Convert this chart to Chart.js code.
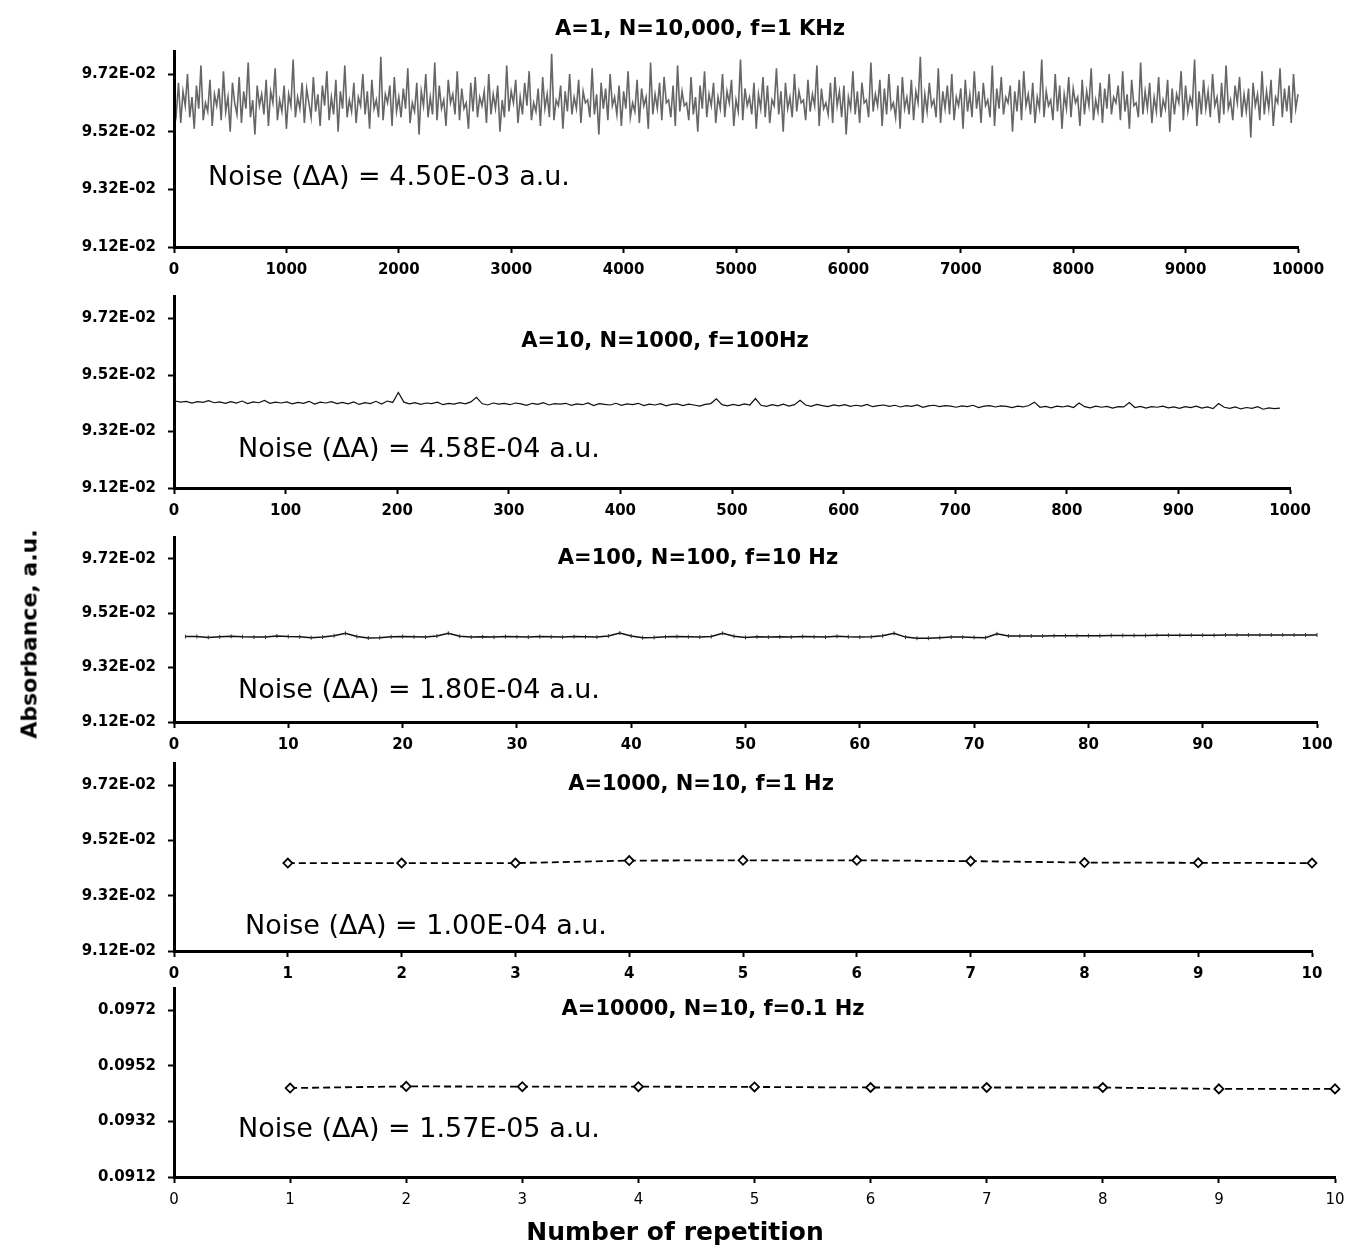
<!DOCTYPE html>
<html>
<head>
<meta charset="utf-8">
<script src="https://cdn.jsdelivr.net/npm/chart.js@4.4.0/dist/chart.umd.min.js"></script>
<style>
  body { margin: 0; background: #fff; width: 1345px; height: 1249px; position: relative; overflow: hidden; font-family: 'DejaVu Sans', sans-serif; color: #000; }
  canvas { position: absolute; left: 0; }
  .title { position: absolute; white-space: nowrap; transform: translate(-50%, -50%); font-weight: bold; font-size: 21px; }
  .noise { position: absolute; white-space: nowrap; transform: translateY(-50%); font-size: 27px; }
  .axis-title { position: absolute; white-space: nowrap; transform: translate(-50%, -50%); font-weight: bold; }
</style>
</head>
<body>
<script>
// ---- data ----
const yTicksAbs = [0.0912, 0.0932, 0.0952, 0.0972];
const yLabelsSci = ['9.12E-02', '9.32E-02', '9.52E-02', '9.72E-02'];
const yLabelsDec = ['0.0912', '0.0932', '0.0952', '0.0972'];

const xTicks1 = [0, 1000, 2000, 3000, 4000, 5000, 6000, 7000, 8000, 9000, 10000];
const xTicks2 = [0, 100, 200, 300, 400, 500, 600, 700, 800, 900, 1000];
const xTicks3 = [0, 10, 20, 30, 40, 50, 60, 70, 80, 90, 100];
const xTicks4 = [0, 1, 2, 3, 4, 5, 6, 7, 8, 9, 10];

// A=1, N=10,000 (read every 20 repetitions)
const absorb1 = [
  0.0963,0.0958,0.0969,0.0955,0.0966,0.0961,0.0972,0.0957,0.0964,0.0953,0.0968,0.0960,0.0975,0.0956,0.0962,0.0959,0.0970,0.0954,0.0965,0.0961,
  0.0967,0.0956,0.0973,0.0959,0.0964,0.0952,0.0969,0.0962,0.0958,0.0971,0.0955,0.0966,0.0960,0.0976,0.0957,0.0963,0.0951,0.0968,0.0961,0.0965,
  0.0958,0.0970,0.0954,0.0966,0.0962,0.0974,0.0956,0.0963,0.0959,0.0968,0.0953,0.0965,0.0961,0.0977,0.0957,0.0964,0.0960,0.0969,0.0955,0.0967,
  0.0962,0.0957,0.0971,0.0959,0.0965,0.0954,0.0968,0.0961,0.0973,0.0956,0.0964,0.0958,0.0970,0.0952,0.0966,0.0960,0.0975,0.0957,0.0963,0.0959,
  0.0969,0.0955,0.0964,0.0961,0.0972,0.0958,0.0966,0.0953,0.0970,0.0960,0.0963,0.0957,0.0978,0.0956,0.0965,0.0962,0.0968,0.0954,0.0971,0.0959,
  0.0964,0.0957,0.0967,0.0960,0.0974,0.0955,0.0962,0.0959,0.0969,0.0951,0.0966,0.0961,0.0972,0.0957,0.0964,0.0958,0.0976,0.0956,0.0968,0.0960,
  0.0963,0.0954,0.0970,0.0962,0.0965,0.0958,0.0973,0.0956,0.0967,0.0960,0.0962,0.0953,0.0969,0.0959,0.0971,0.0957,0.0964,0.0961,0.0966,0.0955,
  0.0972,0.0958,0.0965,0.0960,0.0968,0.0952,0.0963,0.0957,0.0975,0.0959,0.0966,0.0962,0.0970,0.0955,0.0964,0.0958,0.0969,0.0961,0.0973,0.0956,
  0.0962,0.0959,0.0967,0.0954,0.0971,0.0960,0.0965,0.0957,0.0979,0.0956,0.0963,0.0961,0.0968,0.0953,0.0966,0.0959,0.0972,0.0958,0.0964,0.0960,
  0.0970,0.0955,0.0966,0.0962,0.0963,0.0957,0.0974,0.0958,0.0965,0.0951,0.0969,0.0960,0.0967,0.0956,0.0972,0.0961,0.0964,0.0958,0.0968,0.0954,
  0.0966,0.0960,0.0973,0.0957,0.0962,0.0959,0.0970,0.0955,0.0967,0.0961,0.0964,0.0953,0.0976,0.0958,0.0965,0.0960,0.0969,0.0956,0.0971,0.0962,
  0.0963,0.0957,0.0968,0.0954,0.0975,0.0959,0.0966,0.0961,0.0962,0.0956,0.0971,0.0958,0.0964,0.0952,0.0968,0.0960,0.0973,0.0957,0.0965,0.0961,
  0.0969,0.0955,0.0964,0.0960,0.0972,0.0957,0.0966,0.0962,0.0970,0.0954,0.0963,0.0959,0.0977,0.0956,0.0967,0.0961,0.0964,0.0958,0.0969,0.0953,
  0.0965,0.0960,0.0971,0.0957,0.0968,0.0955,0.0963,0.0961,0.0974,0.0958,0.0966,0.0952,0.0969,0.0960,0.0964,0.0957,0.0972,0.0959,0.0966,0.0962,
  0.0963,0.0956,0.0970,0.0959,0.0965,0.0961,0.0975,0.0954,0.0967,0.0960,0.0962,0.0958,0.0969,0.0955,0.0971,0.0961,0.0966,0.0957,0.0968,0.0951,
  0.0964,0.0960,0.0973,0.0958,0.0966,0.0955,0.0969,0.0962,0.0963,0.0957,0.0976,0.0959,0.0965,0.0961,0.0970,0.0954,0.0967,0.0958,0.0972,0.0960,
  0.0962,0.0957,0.0968,0.0953,0.0971,0.0960,0.0964,0.0958,0.0970,0.0956,0.0966,0.0962,0.0978,0.0955,0.0965,0.0959,0.0969,0.0961,0.0963,0.0957,
  0.0974,0.0955,0.0966,0.0960,0.0968,0.0958,0.0972,0.0956,0.0964,0.0961,0.0967,0.0953,0.0970,0.0959,0.0965,0.0957,0.0973,0.0960,0.0966,0.0955,
  0.0969,0.0961,0.0963,0.0957,0.0975,0.0954,0.0967,0.0960,0.0971,0.0958,0.0964,0.0962,0.0968,0.0952,0.0966,0.0959,0.0970,0.0956,0.0973,0.0961,
  0.0965,0.0958,0.0969,0.0955,0.0964,0.0960,0.0977,0.0957,0.0966,0.0961,0.0963,0.0956,0.0972,0.0959,0.0968,0.0953,0.0965,0.0960,0.0971,0.0957,
  0.0967,0.0962,0.0964,0.0954,0.0970,0.0958,0.0966,0.0961,0.0974,0.0956,0.0963,0.0959,0.0969,0.0955,0.0967,0.0960,0.0972,0.0958,0.0964,0.0962,
  0.0968,0.0956,0.0973,0.0959,0.0965,0.0953,0.0970,0.0961,0.0962,0.0957,0.0976,0.0958,0.0966,0.0960,0.0969,0.0955,0.0964,0.0959,0.0971,0.0957,
  0.0963,0.0960,0.0970,0.0952,0.0967,0.0958,0.0965,0.0962,0.0973,0.0956,0.0968,0.0959,0.0964,0.0961,0.0977,0.0954,0.0966,0.0958,0.0970,0.0960,
  0.0966,0.0957,0.0972,0.0961,0.0964,0.0955,0.0969,0.0958,0.0975,0.0960,0.0963,0.0956,0.0968,0.0962,0.0971,0.0957,0.0965,0.0959,0.0967,0.0950,
  0.0969,0.0961,0.0965,0.0956,0.0973,0.0958,0.0966,0.0960,0.0970,0.0954,0.0964,0.0962,0.0974,0.0957,0.0967,0.0959,0.0968,0.0955,0.0972,0.0960,
  0.0965
];

// A=10, N=1000 (read every 5 repetitions)
const absorb2 = [
  0.09428,0.09424,0.09427,0.09421,0.09426,0.09423,0.09429,0.09422,0.09425,0.09420,
  0.09426,0.09421,0.09428,0.09419,0.09425,0.09422,0.09430,0.09420,0.09424,0.09421,
  0.09425,0.09418,0.09423,0.09420,0.09427,0.09417,0.09424,0.09421,0.09426,0.09419,
  0.09423,0.09418,0.09425,0.09416,0.09422,0.09419,0.09427,0.09417,0.09428,0.09423,
  0.09458,0.09424,0.09418,0.09422,0.09416,0.09421,0.09419,0.09424,0.09415,0.09420,
  0.09417,0.09422,0.09418,0.09425,0.09441,0.09419,0.09414,0.09421,0.09417,0.09420,
  0.09415,0.09421,0.09418,0.09413,0.09420,0.09416,0.09422,0.09414,0.09419,0.09417,
  0.09420,0.09413,0.09418,0.09415,0.09421,0.09412,0.09419,0.09416,0.09414,0.09420,
  0.09413,0.09418,0.09415,0.09420,0.09412,0.09417,0.09414,0.09419,0.09411,0.09416,
  0.09418,0.09412,0.09417,0.09414,0.09410,0.09416,0.09419,0.09436,0.09415,0.09411,
  0.09416,0.09412,0.09418,0.09414,0.09437,0.09413,0.09409,0.09415,0.09411,0.09417,
  0.09410,0.09415,0.09431,0.09414,0.09409,0.09416,0.09412,0.09408,0.09414,0.09411,
  0.09415,0.09409,0.09413,0.09410,0.09416,0.09408,0.09412,0.09414,0.09409,0.09413,
  0.09407,0.09412,0.09409,0.09414,0.09406,0.09411,0.09413,0.09408,0.09412,0.09410,
  0.09406,0.09411,0.09408,0.09413,0.09405,0.09410,0.09412,0.09407,0.09411,0.09409,
  0.09405,0.09410,0.09407,0.09412,0.09424,0.09406,0.09409,0.09404,0.09410,0.09407,
  0.09411,0.09405,0.09421,0.09408,0.09404,0.09410,0.09406,0.09409,0.09403,0.09408,
  0.09407,0.09423,0.09405,0.09409,0.09403,0.09408,0.09406,0.09410,0.09404,0.09407,
  0.09402,0.09408,0.09405,0.09410,0.09403,0.09407,0.09401,0.09419,0.09406,0.09402,
  0.09407,0.09400,0.09405,0.09402,0.09408,0.09399,0.09404,0.09401,0.09403
];

// A=100, N=100
const absorb3 = [
  0.09434,0.09434,0.09431,0.09433,0.09435,0.09433,0.09432,0.09432,0.09436,0.09434,
  0.09433,0.09430,0.09432,0.09437,0.09446,0.09434,0.09429,0.09430,0.09433,0.09434,
  0.09433,0.09432,0.09436,0.09446,0.09435,0.09432,0.09433,0.09432,0.09434,0.09433,
  0.09432,0.09434,0.09433,0.09432,0.09434,0.09433,0.09432,0.09436,0.09447,0.09436,
  0.09430,0.09431,0.09433,0.09434,0.09433,0.09432,0.09434,0.09446,0.09435,0.09431,
  0.09433,0.09432,0.09433,0.09432,0.09434,0.09433,0.09432,0.09435,0.09433,0.09432,
  0.09433,0.09437,0.09446,0.09432,0.09428,0.09428,0.09430,0.09432,0.09432,0.09431,
  0.09430,0.09444,0.09436,0.09436,0.09436,0.09436,0.09437,0.09437,0.09437,0.09437,
  0.09437,0.09438,0.09438,0.09438,0.09438,0.09439,0.09439,0.09439,0.09439,0.09439,
  0.09439,0.09440,0.09440,0.09440,0.09440,0.09440,0.09440,0.09440,0.09440,0.09440
];

// A=1000, N=10 and A=10000, N=10
const reps10 = [1, 2, 3, 4, 5, 6, 7, 8, 9, 10];
const absorb4 = [0.09438, 0.09438, 0.09438, 0.09447, 0.09448, 0.09448, 0.09445, 0.09440, 0.09439, 0.09438];
const absorb5 = [0.09440, 0.09446, 0.09445, 0.09445, 0.09444, 0.09442, 0.09442, 0.09442, 0.09437, 0.09437];

const reps1 = absorb1.map((_, i) => i * 20);
const reps2 = absorb2.map((_, i) => 1 + i * 5);
const reps3 = absorb3.map((_, i) => i + 1);

const titles = [
  'A=1, N=10,000, f=1 KHz',
  'A=10, N=1000, f=100Hz',
  'A=100, N=100, f=10 Hz',
  'A=1000, N=10, f=1 Hz',
  'A=10000, N=10, f=0.1 Hz'
];
const noiseTexts = [
  'Noise (ΔA) = 4.50E-03 a.u.',
  'Noise (ΔA) = 4.58E-04 a.u.',
  'Noise (ΔA) = 1.80E-04 a.u.',
  'Noise (ΔA) = 1.00E-04 a.u.',
  'Noise (ΔA) = 1.57E-05 a.u.'
];

const W = 1345;
const tickFont = { family: "'DejaVu Sans', sans-serif", size: 15, weight: 'bold' };

function addText(cls, text, x, y, extra) {
  const d = document.createElement('div');
  d.className = cls;
  d.textContent = text;
  d.style.left = x + 'px';
  d.style.top = y + 'px';
  if (extra) Object.assign(d.style, extra);
  document.body.appendChild(d);
}

function makePanel(p) {
  const canvas = document.createElement('canvas');
  canvas.width = W;
  canvas.height = p.h;
  canvas.style.top = p.top + 'px';
  document.body.appendChild(canvas);

  const areaTop = p.areaTop - p.top;
  const areaBottom = p.areaBottom - p.top;

  new Chart(canvas, {
    type: 'line',
    data: {
      datasets: [Object.assign({
        data: p.xs.map((x, i) => ({ x: x, y: p.ys[i] })),
        tension: 0,
        clip: false
      }, p.style)]
    },
    options: {
      responsive: false,
      animation: false,
      devicePixelRatio: 1,
      layout: { autoPadding: false, padding: { top: areaTop, right: W - p.right, bottom: 0, left: 0 } },
      plugins: { legend: { display: false }, tooltip: { enabled: false } },
      scales: {
        x: {
          type: 'linear',
          min: 0,
          max: p.xTicks[p.xTicks.length - 1],
          afterBuildTicks: s => { s.ticks = p.xTicks.map(v => ({ value: v })); },
          afterFit: s => { s.height = p.h - areaBottom; s.paddingLeft = 0; s.paddingRight = 0; },
          grid: { drawOnChartArea: false, tickLength: 6, tickWidth: 2, tickColor: '#000', color: '#000' },
          border: { color: '#000', width: 3 },
          ticks: {
            color: '#000', padding: 8, maxRotation: 0, autoSkip: false,
            font: Object.assign({}, tickFont, { weight: p.xBold ? 'bold' : 'normal' }),
            callback: v => String(v)
          }
        },
        y: {
          type: 'linear',
          min: 0.0912,
          max: 0.098,
          afterBuildTicks: s => { s.ticks = yTicksAbs.map(v => ({ value: v })); },
          afterFit: s => { s.width = 174; s.paddingTop = 0; s.paddingBottom = 0; },
          grid: { drawOnChartArea: false, tickLength: 6, tickWidth: 2, tickColor: '#000', color: '#000' },
          border: { color: '#000', width: 3 },
          ticks: { color: '#000', padding: 12, font: tickFont, callback: (v, i) => p.yLabels[i] }
        }
      }
    }
  });
}

const diamond = {
  borderColor: '#000', borderWidth: 1.8, borderDash: [7, 4],
  pointStyle: 'rectRot', pointRadius: 4.5, pointBackgroundColor: '#fff',
  pointBorderColor: '#000', pointBorderWidth: 1.8
};

makePanel({ top: 0, h: 290, areaTop: 51, areaBottom: 247, right: 1298, xs: reps1, ys: absorb1, xTicks: xTicks1, yLabels: yLabelsSci, xBold: true,
  style: { borderColor: 'rgba(0,0,0,0.6)', borderWidth: 1.6, pointRadius: 0 } });
makePanel({ top: 290, h: 240, areaTop: 296, areaBottom: 488, right: 1290, xs: reps2, ys: absorb2, xTicks: xTicks2, yLabels: yLabelsSci, xBold: true,
  style: { borderColor: '#111', borderWidth: 1.2, pointRadius: 0 } });
makePanel({ top: 530, h: 230, areaTop: 537, areaBottom: 722, right: 1317, xs: reps3, ys: absorb3, xTicks: xTicks3, yLabels: yLabelsSci, xBold: true,
  style: { borderColor: '#111', borderWidth: 1.5, pointStyle: 'line', rotation: 90, pointRadius: 2, pointBorderWidth: 1, pointBorderColor: '#333' } });
makePanel({ top: 760, h: 230, areaTop: 763, areaBottom: 951, right: 1312, xs: reps10, ys: absorb4, xTicks: xTicks4, yLabels: yLabelsSci, xBold: true,
  style: diamond });
makePanel({ top: 985, h: 264, areaTop: 988, areaBottom: 1177, right: 1335, xs: reps10, ys: absorb5, xTicks: xTicks4, yLabels: yLabelsDec, xBold: false,
  style: diamond });

// titles and noise labels
const titlePos = [[700, 28], [665, 340], [698, 557], [701, 783], [713, 1008]];
const noisePos = [[208, 175], [238, 447], [238, 688], [245, 924], [238, 1127]];
titles.forEach((t, i) => addText('title', t, titlePos[i][0], titlePos[i][1]));
noiseTexts.forEach((t, i) => addText('noise', t, noisePos[i][0], noisePos[i][1]));

addText('axis-title', 'Number of repetition', 675, 1231, { fontSize: '25px' });
addText('axis-title', 'Absorbance, a.u.', 29, 634, { fontSize: '22px', transform: 'translate(-50%, -50%) rotate(-90deg)' });
</script>
</body>
</html>
